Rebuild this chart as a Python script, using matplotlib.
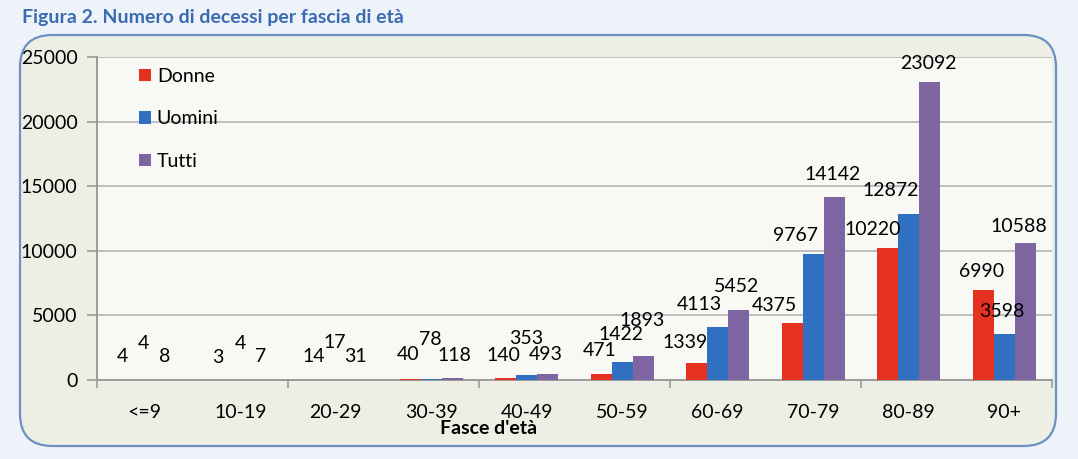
import matplotlib
matplotlib.use("Agg")
import matplotlib.pyplot as plt
from matplotlib.patches import FancyBboxPatch, Patch
from matplotlib.ticker import FixedLocator

# --- data ---
age_groups = ["<=9", "10-19", "20-29", "30-39", "40-49",
              "50-59", "60-69", "70-79", "80-89", "90+"]
donne = [4, 3, 14, 40, 140, 471, 1339, 4375, 10220, 6990]
uomini = [4, 4, 17, 78, 353, 1422, 4113, 9767, 12872, 3598]
tutti = [8, 7, 31, 118, 493, 1893, 5452, 14142, 23092, 10588]
series_names = ["Donne", "Uomini", "Tutti"]

# --- style ---
COLORS = ["#E5311F", "#3170C0", "#7E64A0"]
FONT = "Lato"
BG_OUTER = "#EEF3F9"
BG_FRAME = "#EEEFE4"
BG_PLOT = "#F8F8F5"
FRAME_EDGE = "#6C8FC4"
GRID = "#BEBEBE"

# label nudges in pixels (dx, dy above bar top), hand placed like the original
LABEL_NUDGE = [
    [(-1, 23), (-1, 22), (-1, 23), (-2, 25), (-2, 23), (-2, 23), (-12, 20), (-18, 18), (-15, 18), (-2, 18)],
    [(-1, 36), (0, 36), (-1, 37), (-1, 39), (-1, 37), (-1, 27), (-18, 22), (-18, 18), (-18, 23), (-2, 22)],
    [(-1, 23), (-1, 23), (-1, 23), (2, 23), (-2, 19), (-1, 35), (-2, 23), (-2, 23), (-1, 18), (-6, 17)],
]

W, H = 1078, 459
fig = plt.figure(figsize=(W / 100, H / 100), dpi=100, facecolor=BG_OUTER)

# rounded chart frame, drawn behind the axes
frame = FancyBboxPatch(
    (20 / W, (H - 446) / H), (1056 - 20) / W, (446 - 35) / H,
    boxstyle="round,pad=0,rounding_size=0.03",
    transform=fig.transFigure, facecolor=BG_FRAME, edgecolor=FRAME_EDGE,
    linewidth=1.6, mutation_aspect=W / H, zorder=-5,
)
fig.patches.append(frame)

fig.text(22 / W, 1 - 18 / H, "Figura 2. Numero di decessi per fascia di età",
         family=FONT, fontweight="bold", fontsize=14, color="#3A6BB2",
         ha="left", va="center")

ax = fig.add_axes([97 / W, (H - 380) / H, (1052 - 97) / W, (380 - 57) / H])
ax.set_facecolor(BG_PLOT)

n = len(age_groups)
xs = list(range(n))
bw = 0.22
all_series = [donne, uomini, tutti]
for j, (vals, col) in enumerate(zip(all_series, COLORS)):
    pos = [x + (j - 1) * bw for x in xs]
    ax.bar(pos, vals, width=bw, color=col, zorder=3)
    for k, (p, v) in enumerate(zip(pos, vals)):
        dx, dy = LABEL_NUDGE[j][k]
        ax.annotate(str(v), (p, v), xytext=(dx, dy), textcoords="offset pixels",
                    ha="center", va="center", family=FONT, fontsize=14, zorder=5)

ax.set_xlim(-0.5, n - 0.5)
ax.set_ylim(0, 25000)
ax.set_yticks(range(0, 25001, 5000))
ax.set_xticks(xs)
ax.set_xticklabels(age_groups)
ax.xaxis.set_minor_locator(FixedLocator([-0.5 + 2 * i for i in range(6)]))

ax.tick_params(axis="x", which="major", length=0, pad=17, labelsize=14)
ax.tick_params(axis="x", which="minor", length=6, width=1.2, color="#9A9A9A")
ax.tick_params(axis="y", length=7, width=1.2, color="#9A9A9A", pad=7, labelsize=14)
for lab in ax.get_xticklabels() + ax.get_yticklabels():
    lab.set_family(FONT)

ax.grid(axis="y", color=GRID, linewidth=1.4, zorder=1)
ax.set_axisbelow(True)
for s in ["top", "right"]:
    ax.spines[s].set_visible(False)
for s in ["left", "bottom"]:
    ax.spines[s].set_color("#9A9A9A")
    ax.spines[s].set_linewidth(1.4)

fig.text(489 / W, 1 - 428 / H, "Fasce d'età", family=FONT, fontweight="bold",
         fontsize=14, ha="center", va="center")

handles = [Patch(facecolor=c, edgecolor="none") for c in COLORS]
leg = ax.legend(handles, series_names, loc="upper left", bbox_to_anchor=(0.026, 1.02),
                frameon=False, handlelength=0.6, handleheight=0.6, handletextpad=0.3,
                labelspacing=1.3, prop={"family": FONT, "size": 14})

fig.savefig("out.png", dpi=100, facecolor=BG_OUTER)
